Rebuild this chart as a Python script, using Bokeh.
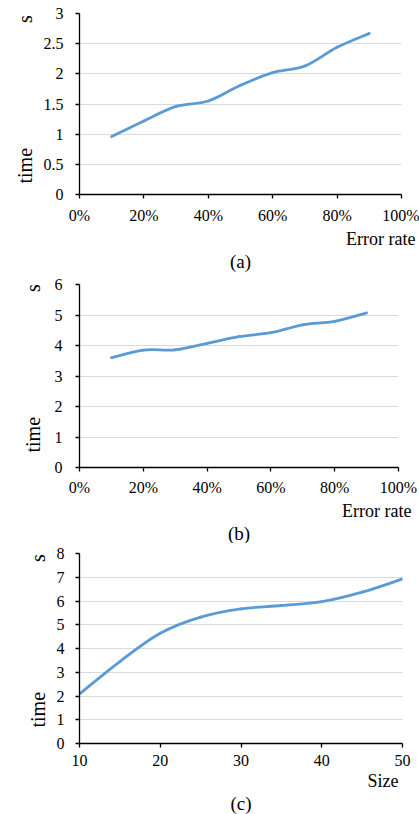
import numpy as np
from bokeh.plotting import figure
from bokeh.layouts import column
from bokeh.models import FixedTicker, NumeralTickFormatter, Range1d, ColumnDataSource, Title
from bokeh.embed import file_html
from bokeh.resources import INLINE

# ---------------- data ----------------
error_rate = [0.1, 0.2, 0.3, 0.4, 0.5, 0.6, 0.7, 0.8, 0.9]
time_a = [0.96, 1.22, 1.46, 1.55, 1.81, 2.02, 2.13, 2.44, 2.67]
time_b = [3.60, 3.85, 3.86, 4.07, 4.29, 4.42, 4.68, 4.79, 5.07]
size_c = [10, 15, 20, 25, 30, 35, 40, 45, 50]
time_c = [2.09, 3.45, 4.64, 5.32, 5.67, 5.81, 5.97, 6.37, 6.93]

x_ticks_pct = [0, 0.2, 0.4, 0.6, 0.8, 1.0]
x_ticks_size = [10, 20, 30, 40, 50]
y_ticks_a = [0, 0.5, 1, 1.5, 2, 2.5, 3]
y_ticks_b = [0, 1, 2, 3, 4, 5, 6]
y_ticks_c = [0, 1, 2, 3, 4, 5, 6, 7, 8]

FONT = "Liberation Serif"
LINE = "#5B9BD5"
GRID = "#D9D9D9"
W = 419
NB = "\u00a0"


def smooth_controls(xs, ys):
    xs = np.asarray(xs, float)
    ys = np.asarray(ys, float)
    n = len(xs)
    xp = np.concatenate([[xs[0]], xs, [xs[-1]]])
    yp = np.concatenate([[ys[0]], ys, [ys[-1]]])
    d = dict(x0=[], y0=[], x1=[], y1=[], cx0=[], cy0=[], cx1=[], cy1=[])
    for i in range(n - 1):
        j = i + 1
        d["x0"].append(xp[j]); d["y0"].append(yp[j])
        d["x1"].append(xp[j + 1]); d["y1"].append(yp[j + 1])
        d["cx0"].append(xp[j] + (xp[j + 1] - xp[j - 1]) / 6)
        d["cy0"].append(yp[j] + (yp[j + 1] - yp[j - 1]) / 6)
        d["cx1"].append(xp[j + 1] - (xp[j + 2] - xp[j]) / 6)
        d["cy1"].append(yp[j + 1] - (yp[j + 2] - yp[j]) / 6)
    return ColumnDataSource(d)


def panel(xs, ys, xr, yr, xticks, yticks, xfmt, yfmt, left, fw, top, fh, bottom,
          ystand, xstand, xlabel, xl_off, xl_stand, nb, tl_off, tl_stand, cap, cap_stand):
    p = figure(frame_width=fw, frame_height=fh, output_backend="svg",
               toolbar_location=None,
               x_range=Range1d(*xr), y_range=Range1d(*yr),
               min_border_left=left, min_border_right=W - left - fw,
               min_border_top=top, min_border_bottom=bottom)
    p.outline_line_color = None
    p.background_fill_color = "white"
    p.border_fill_color = "white"
    p.xgrid.visible = False
    p.ygrid.grid_line_color = GRID
    p.ygrid.grid_line_width = 1
    for ax in (p.xaxis[0], p.yaxis[0]):
        ax.axis_line_color = "black"
        ax.axis_line_width = 1.3
        ax.major_tick_line_color = "black"
        ax.major_tick_line_width = 1.3
        ax.major_tick_out = 4
        ax.major_tick_in = 0
        ax.minor_tick_line_color = None
        ax.major_label_text_font = FONT
        ax.major_label_text_font_size = "16px"
        ax.major_label_text_color = "black"
    p.xaxis[0].ticker = FixedTicker(ticks=xticks)
    p.yaxis[0].ticker = FixedTicker(ticks=yticks)
    p.xaxis[0].formatter = NumeralTickFormatter(format=xfmt)
    p.yaxis[0].formatter = NumeralTickFormatter(format=yfmt)
    p.xaxis[0].major_label_standoff = xstand
    p.yaxis[0].major_label_standoff = ystand

    p.bezier(x0="x0", y0="y0", x1="x1", y1="y1", cx0="cx0", cy0="cy0",
             cx1="cx1", cy1="cy1", source=smooth_controls(xs, ys),
             line_color=LINE, line_width=2.8, line_cap="round")

    p.add_layout(Title(text="time" + NB * nb + "s", align="left", offset=tl_off,
                       standoff=tl_stand, text_font=FONT, text_font_size="20px",
                       text_font_style="normal", text_color="black"), "left")
    p.add_layout(Title(text=xlabel, align="right", offset=xl_off, standoff=xl_stand,
                       text_font=FONT, text_font_size="18px",
                       text_font_style="normal", text_color="black"), "below")
    p.add_layout(Title(text=cap, align="center", standoff=cap_stand,
                       text_font=FONT, text_font_size="19px",
                       text_font_style="normal", text_color="black"), "below")
    return p


pa = panel(error_rate, time_a, (0, 1), (0, 3), x_ticks_pct, y_ticks_a, "0%", "0.[0]",
           left=77, fw=322, top=13, fh=181, bottom=79, ystand=12, xstand=8,
           xlabel="Error rate", xl_off=-14, xl_stand=0, nb=25, tl_off=11, tl_stand=10,
           cap="(a)", cap_stand=1)
pb = panel(error_rate, time_b, (0, 1), (0, 6), x_ticks_pct, y_ticks_b, "0%", "0",
           left=76, fw=319, top=11, fh=183, bottom=74, ystand=13, xstand=7,
           xlabel="Error rate", xl_off=-13, xl_stand=0, nb=25, tl_off=15, tl_stand=15,
           cap="(b)", cap_stand=0)
pc = panel(size_c, time_c, (10, 50), (0, 8), x_ticks_size, y_ticks_c, "0", "0",
           left=79, fw=323, top=10, fh=190, bottom=73, ystand=11, xstand=7,
           xlabel="Size", xl_off=4, xl_stand=0, nb=26, tl_off=16, tl_stand=9,
           cap="(c)", cap_stand=0)

layout = column(pa, pb, pc)
open("out.html", "w").write(file_html(layout, INLINE))
